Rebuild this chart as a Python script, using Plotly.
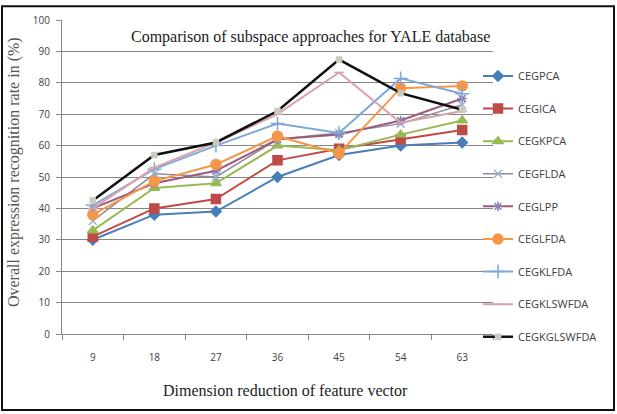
import plotly.graph_objects as go

dims = ["9", "18", "27", "36", "45", "54", "63"]

names = ["CEGPCA", "CEGICA", "CEGKPCA", "CEGFLDA", "CEGLPP", "CEGLFDA",
         "CEGKLFDA", "CEGKLSWFDA", "CEGKGLSWFDA"]

cegpca      = [30, 38, 39, 50, 57, 60, 61]
cegica      = [31, 40, 43, 55.3, 59, 62, 65]
cegkpca     = [33, 46.5, 48, 60, 58.5, 63.5, 68]
cegflda     = [36, 51, 50, 62, 64, 67, 73]
ceglpp      = [40, 48, 52, 62, 63.5, 68, 75]
ceglfda     = [38, 48.7, 54, 63, 57.5, 78.3, 79]
cegklfda    = [41, 52.5, 60, 67, 64, 81.4, 76.5]
cegklswfda  = [40, 53, 61, 70, 83.3, 67.3, 71]
cegkglswfda = [42.5, 57, 61, 71, 87.4, 76.7, 71.4]

series = [cegpca, cegica, cegkpca, cegflda, ceglpp, ceglfda,
          cegklfda, cegklswfda, cegkglswfda]

styles = [
    dict(color="#4A7EBB", width=2, symbol="diamond", msize=8, mcolor="#4A7EBB"),
    dict(color="#BE4B48", width=2, symbol="square", msize=9, mcolor="#BE4B48"),
    dict(color="#98B954", width=2, symbol="triangle-up", msize=9, mcolor="#98B954"),
    dict(color="#8C8C9A", width=1.5, symbol="x-thin", msize=8, mcolor="#9FB0D0"),
    dict(color="#9E5A7E", width=2, symbol="asterisk", msize=8, mcolor="#8C7FB8"),
    dict(color="#F79646", width=2, symbol="circle", msize=10, mcolor="#F79646"),
    dict(color="#7FA7D8", width=2, symbol="cross-thin", msize=10, mcolor="#7FA7D8"),
    dict(color="#D8A3A8", width=2, symbol="line-ew", msize=7, mcolor="#D8A3A8"),
    dict(color="#111111", width=2.5, symbol="square", msize=5, mcolor="#C8CCC0"),
]

fig = go.Figure()
for i, (nm, ys, st) in enumerate(zip(names, series, styles)):
    fig.add_trace(go.Scatter(
        x=dims, y=ys, name=nm, mode="lines+markers",
        legendgroup=str(i),
        line=dict(color=st["color"], width=st["width"]),
        marker=dict(symbol=st["symbol"], size=st["msize"], color=st["mcolor"],
                    line=dict(color=st["mcolor"], width=1.5)),
    ))

L, T, R, B = 62, 16, 124, 80
W, H = 617, 414
pw, ph = W - L - R, H - T - B

def px(x):
    return (x - L) / pw

def py(y):
    return (H - B - y) / ph

fig.update_layout(
    width=W, height=H,
    margin=dict(l=L, r=R, t=T, b=B),
    paper_bgcolor="white", plot_bgcolor="white",
    showlegend=True,
    legend=dict(x=px(478), y=py(58), xanchor="left", yanchor="top",
                font=dict(family="Open Sans", size=11, color="#404040"),
                tracegroupgap=13.6, bgcolor="rgba(0,0,0,0)"),
    xaxis=dict(type="category", showgrid=False, showline=True, linecolor="#868686",
               ticks="outside", tickson="boundaries", ticklen=5, tickcolor="#868686",
               ticklabelstandoff=14,
               tickfont=dict(family="Open Sans", size=10, color="#404040"),
               range=[-0.5, 6.5]),
    yaxis=dict(range=[0, 100], dtick=10, showgrid=True, gridcolor="#868686", gridwidth=1,
               showline=True, linecolor="#868686", ticks="outside", ticklen=5,
               tickcolor="#868686", zeroline=False, ticklabelstandoff=4,
               tickfont=dict(family="Open Sans", size=10, color="#404040")),
    annotations=[
        dict(text="Comparison of subspace approaches for YALE database",
             x=px(310), y=py(33), xref="paper", yref="paper", showarrow=False,
             xanchor="center", yanchor="middle",
             font=dict(family="Liberation Serif", size=16, color="#222222")),
        dict(text="Dimension reduction of feature vector",
             x=px(285), y=py(391), xref="paper", yref="paper", showarrow=False,
             xanchor="center", yanchor="middle",
             font=dict(family="Liberation Serif", size=16, color="#222222")),
        dict(text="Overall expression recognition rate in (%)",
             x=px(14), y=py(170), xref="paper", yref="paper", showarrow=False,
             xanchor="center", yanchor="middle", textangle=-90,
             font=dict(family="Liberation Serif", size=16, color="#555555")),
    ],
    shapes=[
        dict(type="rect", xref="paper", yref="paper",
             x0=px(2), x1=px(614), y0=py(411), y1=py(2),
             line=dict(color="#111111", width=2), fillcolor="rgba(0,0,0,0)"),
    ],
)

fig.write_html("out.html")
